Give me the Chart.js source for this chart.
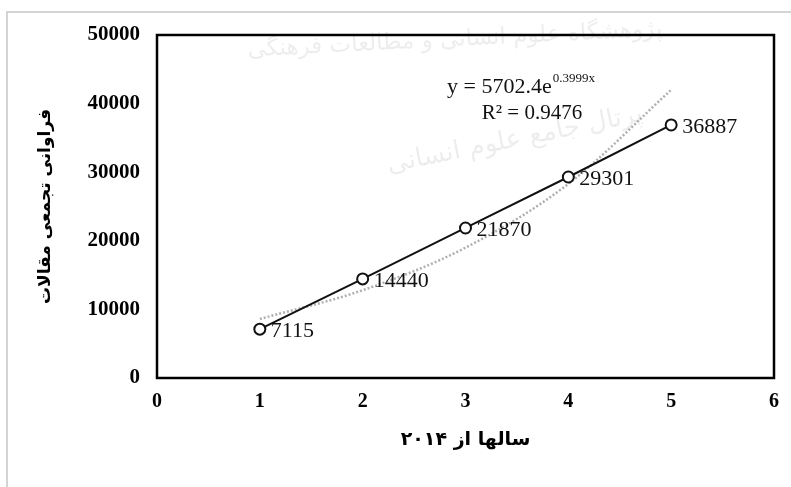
<!DOCTYPE html>
<html>
<head>
<meta charset="utf-8">
<script src="https://cdn.jsdelivr.net/npm/chart.js@4/dist/chart.umd.min.js"></script>
<style>
  html, body { margin: 0; padding: 0; background: #fff; }
  canvas { display: block; }
</style>
</head>
<body>
<canvas id="chart" width="791" height="487"></canvas>
<script>
// données
const years = [1, 2, 3, 4, 5];
const cumulative = [7115, 14440, 21870, 29301, 36887];
const trend = [8600, 12800, 19000, 28300, 42000];
const yTicks = [0, 10000, 20000, 30000, 40000, 50000];
const xTicks = [0, 1, 2, 3, 4, 5, 6];

const equation = 'y = 5702.4e';
const exponent = '0.3999x';
const rSquared = 'R² = 0.9476';
const xTitle = 'سالها از ۲۰۱۴';
const yTitle = 'فراوانی تجمعی مقالات';

const serif = "'Liberation Serif', 'Times New Roman', 'DejaVu Sans', serif";

// fond, cadre extérieur et filigrane
const backdrop = {
    id: 'backdrop',
    beforeDraw(chart) {
        const ctx = chart.ctx;
        ctx.save();
        ctx.fillStyle = '#fff';
        ctx.fillRect(0, 0, chart.width, chart.height);
        ctx.strokeStyle = '#d4d4d4';
        ctx.lineWidth = 2;
        ctx.strokeRect(7, 12, chart.width + 10, chart.height + 10);

        ctx.fillStyle = 'rgba(0, 0, 0, 0.07)';
        ctx.textAlign = 'center';
        ctx.textBaseline = 'middle';
        ctx.font = "23px 'DejaVu Sans'";
        ctx.translate(455, 40);
        ctx.rotate(-0.05);
        ctx.fillText('پژوهشگاه علوم انسانی و مطالعات فرهنگی', 0, 0);
        ctx.restore();

        ctx.save();
        ctx.fillStyle = 'rgba(0, 0, 0, 0.07)';
        ctx.textAlign = 'center';
        ctx.textBaseline = 'middle';
        ctx.font = "26px 'DejaVu Sans'";
        ctx.translate(515, 140);
        ctx.rotate(-0.2);
        ctx.fillText('پرتال جامع علوم انسانی', 0, 0);
        ctx.restore();
    }
};

// cadre noir de la zone de tracé
const plotBox = {
    id: 'plotBox',
    beforeDatasetsDraw(chart) {
        const {ctx, chartArea: a} = chart;
        ctx.save();
        ctx.strokeStyle = '#000';
        ctx.lineWidth = 2.5;
        ctx.strokeRect(a.left, a.top, a.right - a.left, a.bottom - a.top);
        ctx.restore();
    }
};

// étiquettes des points + équation de la tendance
const annotations = {
    id: 'annotations',
    afterDatasetsDraw(chart) {
        const ctx = chart.ctx;
        const meta = chart.getDatasetMeta(1);
        ctx.save();
        ctx.fillStyle = '#111';
        ctx.font = '22px ' + serif;
        ctx.textAlign = 'left';
        ctx.textBaseline = 'middle';
        meta.data.forEach((pt, i) => {
            ctx.fillText(String(cumulative[i]), pt.x + 11, pt.y + 2);
        });

        ctx.font = '22px ' + serif;
        ctx.textBaseline = 'alphabetic';
        const w = ctx.measureText(equation).width;
        ctx.fillText(equation, 447, 93);
        ctx.font = '13px ' + serif;
        ctx.fillText(exponent, 447 + w + 1, 82);
        ctx.font = '21px ' + serif;
        ctx.textAlign = 'center';
        ctx.fillText(rSquared, 532, 119);
        ctx.restore();
    }
};

new Chart(document.getElementById('chart').getContext('2d'), {
    type: 'scatter',
    data: {
        datasets: [{
            label: 'trend',
            data: years.map((x, i) => ({x: x, y: trend[i]})),
            showLine: true,
            borderColor: '#b0b0b0',
            borderWidth: 2.5,
            borderDash: [2, 2],
            cubicInterpolationMode: 'monotone',
            pointRadius: 0,
            order: 2
        }, {
            label: 'cumulative',
            data: years.map((x, i) => ({x: x, y: cumulative[i]})),
            showLine: true,
            borderColor: '#111',
            borderWidth: 2,
            pointRadius: 5.5,
            pointBorderWidth: 2,
            pointBackgroundColor: '#fff',
            pointBorderColor: '#111',
            order: 1
        }]
    },
    options: {
        responsive: false,
        animation: false,
        layout: {
            padding: {top: 35, right: 16, bottom: 0, left: 0}
        },
        plugins: {
            legend: {display: false},
            tooltip: {enabled: false}
        },
        scales: {
            x: {
                type: 'linear',
                min: 0,
                max: 6,
                afterBuildTicks: s => { s.ticks = xTicks.map(v => ({value: v})); },
                afterFit: s => { s.height = 109; },
                grid: {display: false, drawTicks: false},
                border: {display: false},
                ticks: {
                    color: '#000',
                    padding: 12,
                    font: {family: serif, size: 20, weight: 'bold'}
                },
                title: {
                    display: true,
                    text: xTitle,
                    color: '#000',
                    padding: {top: 4, bottom: 36},
                    font: {family: "'DejaVu Sans'", size: 19, weight: 'bold'}
                }
            },
            y: {
                min: 0,
                max: 50000,
                afterBuildTicks: s => { s.ticks = yTicks.map(v => ({value: v})); },
                afterFit: s => { s.width = 157; },
                grid: {display: false, drawTicks: false},
                border: {display: false},
                ticks: {
                    color: '#000',
                    padding: 17,
                    callback: v => String(v),
                    font: {family: serif, size: 21, weight: 'bold'}
                },
                title: {
                    display: true,
                    text: yTitle,
                    color: '#000',
                    padding: {top: 35, bottom: 4},
                    font: {family: "'DejaVu Sans'", size: 17, weight: 'bold'}
                }
            }
        }
    },
    plugins: [backdrop, plotBox, annotations]
});
</script>
</body>
</html>
